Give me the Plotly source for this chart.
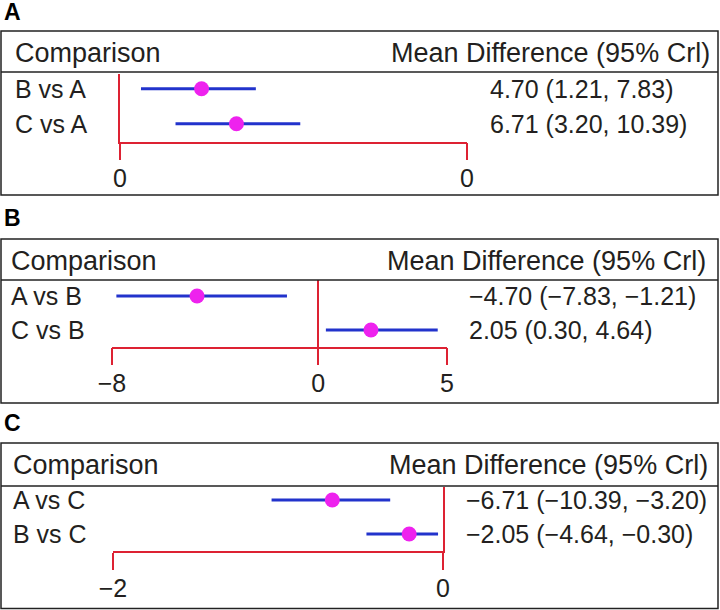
import plotly.graph_objects as go

W, H = 720, 610

# ---- data ----
panel_letters = ["A", "B", "C"]
comparisons_A = ["B vs A", "C vs A"]
means_A = [4.70, 6.71]
lower_A = [1.21, 3.20]
upper_A = [7.83, 10.39]
labels_A = ["4.70 (1.21, 7.83)", "6.71 (3.20, 10.39)"]
tickvals_A = [0, 20]
ticktext_A = ["0", "0"]

comparisons_B = ["A vs B", "C vs B"]
means_B = [-4.70, 2.05]
lower_B = [-7.83, 0.30]
upper_B = [-1.21, 4.64]
labels_B = ["\u22124.70 (\u22127.83, \u22121.21)", "2.05 (0.30, 4.64)"]
tickvals_B = [-8, 0, 5]
ticktext_B = ["\u22128", "0", "5"]

comparisons_C = ["A vs C", "B vs C"]
means_C = [-6.71, -2.05]
lower_C = [-10.39, -4.64]
upper_C = [-3.20, -0.30]
labels_C = ["\u22126.71 (\u221210.39, \u22123.20)", "\u22122.05 (\u22124.64, \u22120.30)"]
tickvals_C = [-20, 0]
ticktext_C = ["\u22122", "0"]

header_left = "Comparison"
header_right = "Mean Difference (95% Crl)"

# ---- styles / layout geometry (pixels) ----
FONT = "Liberation Sans"
FS = 25
FSH = 27
TXT = "#231f20"
RED = "#dd2233"
BLUE = "#2233cc"
MAG = "#ee22ee"

panels = [
    dict(comp=comparisons_A, mean=means_A, lo=lower_A, hi=upper_A, lab=labels_A,
         tv=tickvals_A, tt=ticktext_A, xpx=(120, 467), box=(31, 195), hdr=72,
         dom=(74, 141.7), rows=(88.7, 123.7), letter_y=12, lab_x=13, val_x=488,
         right_x=712, zero="left"),
    dict(comp=comparisons_B, mean=means_B, lo=lower_B, hi=upper_B, lab=labels_B,
         tv=tickvals_B, tt=ticktext_B, xpx=(112, 447), box=(239, 403), hdr=280,
         dom=(280, 346.7), rows=(296, 330), letter_y=218, lab_x=9, val_x=467,
         right_x=708, zero="mid"),
    dict(comp=comparisons_C, mean=means_C, lo=lower_C, hi=upper_C, lab=labels_C,
         tv=tickvals_C, tt=ticktext_C, xpx=(113, 443), box=(443, 608.5), hdr=486,
         dom=(487, 551), rows=(500, 534), letter_y=423, lab_x=11, val_x=464,
         right_x=710, zero="right"),
]


def px(x):
    return x / W


def py(y):
    return 1 - y / H


fig = go.Figure()
shapes = []
annotations = []
layout = {}

for k, p in enumerate(panels):
    sfx = "" if k == 0 else str(k + 1)
    xa, ya = "x" + sfx, "y" + sfx
    n = len(p["comp"])
    yv = [n - 1 - i for i in range(n)]
    unit = p["rows"][1] - p["rows"][0]
    ytop = (n - 1) + (p["rows"][0] - p["dom"][0]) / unit
    ybot = 0 - (p["dom"][1] - p["rows"][1]) / unit

    # interval lines
    for i in range(n):
        fig.add_trace(go.Scatter(x=[p["lo"][i], p["hi"][i]], y=[yv[i], yv[i]],
                                 mode="lines", line=dict(color=BLUE, width=3),
                                 xaxis=xa, yaxis=ya, showlegend=False,
                                 hoverinfo="skip"))
    fig.add_trace(go.Scatter(x=p["mean"], y=yv, mode="markers",
                             marker=dict(color=MAG, size=15),
                             xaxis=xa, yaxis=ya, showlegend=False,
                             cliponaxis=False))

    rng = [min(p["tv"]), max(p["tv"])]
    layout["xaxis" + sfx] = dict(
        domain=[px(p["xpx"][0]), px(p["xpx"][1])], range=rng, anchor=ya,
        automargin=False,
        showgrid=False, zeroline=(p["zero"] == "mid"), zerolinecolor=RED,
        zerolinewidth=1.5, showline=True, linecolor=RED, linewidth=1.5,
        ticks="outside", ticklen=17, tickwidth=1.5, tickcolor=RED,
        tickvals=p["tv"], ticktext=p["tt"], ticklabelstandoff=-3,
        tickfont=dict(family=FONT, size=FS, color=TXT), fixedrange=True)
    layout["yaxis" + sfx] = dict(
        domain=[py(p["dom"][1]), py(p["dom"][0])], range=[ybot, ytop],
        anchor=xa, automargin=False, showgrid=False, zeroline=False,
        showline=(p["zero"] != "mid"), linecolor=RED, linewidth=1.5,
        side="right" if p["zero"] == "right" else "left",
        showticklabels=False, ticks="", fixedrange=True)

    # box and header line
    shapes.append(dict(type="rect", xref="paper", yref="paper",
                       x0=px(1), x1=px(718), y0=py(p["box"][1]), y1=py(p["box"][0]),
                       line=dict(color="#222222", width=1.5)))
    shapes.append(dict(type="line", xref="paper", yref="paper",
                       x0=px(1), x1=px(718), y0=py(p["hdr"]), y1=py(p["hdr"]),
                       line=dict(color="#222222", width=1.5)))

    annotations.append(dict(text="<b>%s</b>" % panel_letters[k], xref="paper",
                            yref="paper", x=px(2), y=py(p["letter_y"]),
                            xanchor="left", yanchor="middle", showarrow=False,
                            font=dict(family=FONT, size=23, color="#000000")))
    hy = (p["box"][0] + p["hdr"]) / 2 + 1
    annotations.append(dict(text=header_left, xref="paper", yref="paper",
                            x=px(p["lab_x"]), y=py(hy), xanchor="left",
                            yanchor="middle", showarrow=False,
                            font=dict(family=FONT, size=FSH, color=TXT)))
    annotations.append(dict(text=header_right, xref="paper", yref="paper",
                            x=px(p["right_x"]), y=py(hy), xanchor="right",
                            yanchor="middle", showarrow=False,
                            font=dict(family=FONT, size=FSH, color=TXT)))
    for i in range(n):
        annotations.append(dict(text=p["comp"][i], xref="paper", yref=ya,
                                x=px(p["lab_x"]), y=yv[i], xanchor="left",
                                yanchor="middle", showarrow=False,
                                font=dict(family=FONT, size=FS, color=TXT)))
        annotations.append(dict(text=p["lab"][i], xref="paper", yref=ya,
                                x=px(p["val_x"]), y=yv[i], xanchor="left",
                                yanchor="middle", showarrow=False,
                                font=dict(family=FONT, size=FS, color=TXT)))

fig.update_layout(width=W, height=H, margin=dict(l=0, r=0, t=0, b=0, pad=0),
                  template="none",
                  paper_bgcolor="white", plot_bgcolor="white",
                  shapes=shapes, annotations=annotations, showlegend=False,
                  **layout)

fig.write_html("out.html", config={"displayModeBar": False},
               post_script="document.body.style.margin='0';")
